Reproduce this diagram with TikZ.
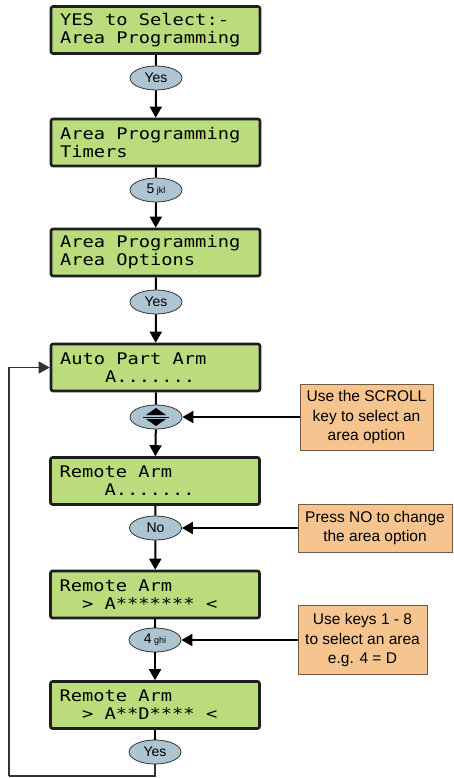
\documentclass[tikz,border=0pt]{standalone}
\usepackage{fontspec}
\setmainfont{Liberation Sans}
\newfontfamily\lcdfont[FakeStretch=1.17]{DejaVu Sans Mono}
\newcommand\sk{\hphantom{x}}
\usetikzlibrary{positioning,arrows.meta,shapes.geometric}

\definecolor{lcdgreen}{RGB}{186,220,124}
\definecolor{lcdedge}{RGB}{30,30,30}
\definecolor{keyblue}{RGB}{173,196,210}
\definecolor{keyedge}{RGB}{50,50,50}
\definecolor{noteorange}{RGB}{246,196,142}
\definecolor{noteedge}{RGB}{110,90,70}

\begin{document}
\begin{tikzpicture}[x=1pt,y=-1pt,
  lcd/.style={draw=lcdedge,fill=lcdgreen,line width=2.6pt,rounded corners=2pt,
    minimum width=209pt,minimum height=47pt,text width=191pt,inner xsep=9pt,
    align=left,font=\lcdfont\fontsize{16}{18}\selectfont},
  keybtn/.style={ellipse,draw=keyedge,fill=keyblue,line width=0.8pt,
    minimum width=52pt,minimum height=24pt,inner sep=0pt,font=\fontsize{14}{16}\selectfont},
  hintbox/.style={draw=noteedge,fill=noteorange,line width=1pt,align=center,
    inner sep=0pt,font=\fontsize{15.5}{19.5}\selectfont},
  flow/.style={line width=2pt},
  flowarrow/.style={flow,-{Triangle[width=12pt,length=11pt]}}]
\useasboundingbox (0,0) rectangle (453,778);

% displays
\node[lcd] (d1) at (155.5,30) {YES\sk to\sk Select:-\\Area\sk Programming};
\node[lcd] (d2) at (155.5,142.5) {Area\sk Programming\\Timers};
\node[lcd] (d3) at (155.5,252.5) {Area\sk Programming\\Area\sk Options};
\node[lcd] (d4) at (155.5,367.5) {Auto\sk Part\sk Arm\\\sk\sk\sk\sk A.......};
\node[lcd] (d5) at (155,481) {Remote\sk Arm\\\sk\sk\sk\sk A.......};
\node[lcd] (d6) at (155,594.5) {Remote\sk Arm\\\sk\sk>\sk A*******\sk<};
\node[lcd] (d7) at (155,705) {Remote\sk Arm\\\sk\sk>\sk A**D****\sk<};

% keys
\node[keybtn] (k1) at (156,78) {Yes};
\node[keybtn] (k2) at (156,190) {5\,{\fontsize{9}{10}\selectfont jkl}};
\node[keybtn] (k3) at (156,302) {Yes};
\node[keybtn] (k4) at (156,417) {};
\node[keybtn] (k5) at (155.5,528) {No};
\node[keybtn] (k6) at (155,640) {4\,{\fontsize{9}{10}\selectfont ghi}};
\node[keybtn] (k7) at (155,752) {Yes};

% scroll symbol
\begin{scope}[shift={(k4.center)}]
\fill (-10,-2) -- (10,-2) -- (0,-9) -- cycle;
\fill (-10,2) -- (10,2) -- (0,9) -- cycle;
\draw[line width=0.8pt] (-13,0) -- (13,0);
\end{scope}

% hints
\node[hintbox,minimum width=133pt,minimum height=66pt] (h1) at (366.5,417)
  {Use the SCROLL\\key to select an\\area option};
\node[hintbox,minimum width=154pt,minimum height=48pt] (h2) at (375,528)
  {Press NO to change\\the area option};
\node[hintbox,minimum width=129pt,minimum height=69pt] (h3) at (362.5,640)
  {Use keys 1 - 8\\to select an area\\e.g. 4 = D};

\draw[flow] (d1) -- (k1);
\draw[flowarrow] (k1) -- (d2);
\draw[flow] (d2) -- (k2);
\draw[flowarrow] (k2) -- (d3);
\draw[flow] (d3) -- (k3);
\draw[flowarrow] (k3) -- (d4);
\draw[flow] (d4) -- (k4);
\draw[flowarrow] (k4) -- (d5);
\draw[flow] (d5) -- (k5);
\draw[flowarrow] (k5) -- (d6);
\draw[flow] (d6) -- (k6);
\draw[flowarrow] (k6) -- (d7);
\draw[flow] (d7) -- (k7);

\draw[flowarrow] (h1) -- (k4);
\draw[flowarrow] (h2) -- (k5);
\draw[flowarrow] (h3) -- (k6);

% loop back
\coordinate (back) at (9,776);
\draw[line width=1.2pt,draw=keyedge] (k7.south) |- (back);
\draw[flowarrow,line width=1.2pt,draw=keyedge] (back) |- (d4.west);
\end{tikzpicture}
\end{document}
